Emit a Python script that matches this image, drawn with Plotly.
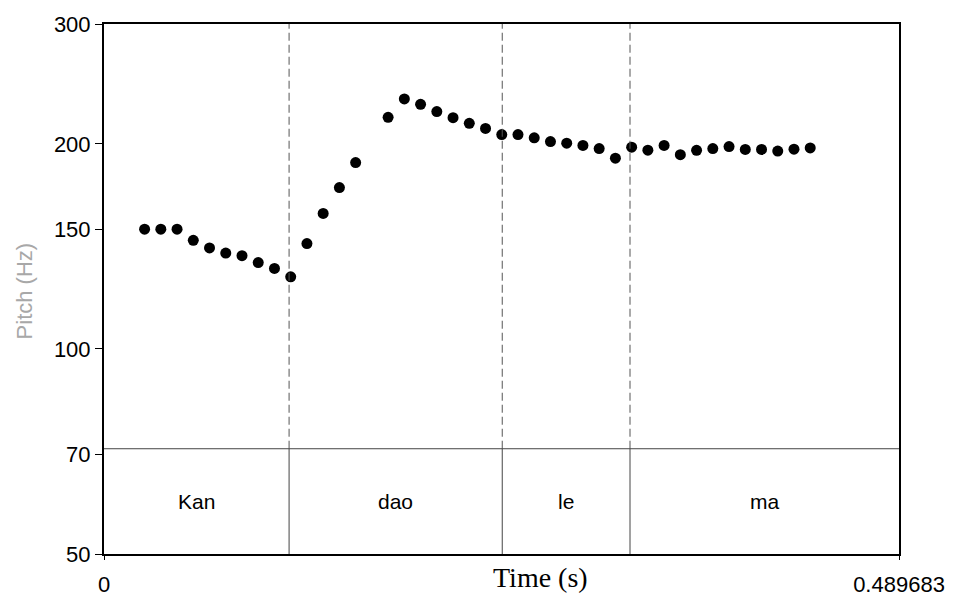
import plotly.graph_objects as go

# Pitch track (time in s, F0 in Hz), one frame every 10 ms; one unvoiced frame near 0.165 s
times = [0.025, 0.035, 0.045, 0.055, 0.065, 0.075, 0.085, 0.095, 0.105, 0.115,
         0.125, 0.135, 0.145, 0.155,
         0.175, 0.185, 0.195, 0.205, 0.215, 0.225, 0.235, 0.245, 0.255, 0.265,
         0.275, 0.285, 0.295, 0.305, 0.315, 0.325, 0.335, 0.345, 0.355, 0.365,
         0.375, 0.385, 0.395, 0.405, 0.415, 0.425, 0.435]
pitch = [149.9, 149.9, 149.9, 144.4, 140.7, 138.3, 137.1, 133.9, 131.3, 127.6,
         142.8, 158.1, 172.6, 187.8,
         218.8, 232.9, 228.7, 223.1, 218.6, 214.4, 210.8, 206.4, 206.4, 204.2,
         201.6, 200.5, 199.0, 196.9, 190.6, 197.8, 195.8, 199.0, 192.9, 195.7,
         196.9, 198.2, 196.3, 196.3, 195.2, 196.5, 197.3]

# Syllable tier
total_dur = 0.489683
boundaries = [0.1140, 0.2453, 0.3240]
syllables = ["Kan", "dao", "le", "ma"]

y_ticks = [50, 70, 100, 150, 200, 300]

tier_top = 0.1986   # top of the text tier, as a fraction of the plot height
sans = "Liberation Sans, Arial, Helvetica, sans-serif"

fig = go.Figure()
fig.add_trace(go.Scatter(
    x=times, y=pitch, mode="markers",
    marker=dict(color="black", size=11, line=dict(width=0)),
    hoverinfo="skip", showlegend=False,
))

shapes = []
edges = [0.0] + boundaries + [total_dur]
for b in boundaries:
    # dashed guide through the pitch area
    shapes.append(dict(type="line", xref="x", yref="paper", x0=b, x1=b,
                       y0=tier_top, y1=1, line=dict(color="#555555", width=1, dash="8px,4px")))
    # solid boundary inside the tier
    shapes.append(dict(type="line", xref="x", yref="paper", x0=b, x1=b,
                       y0=0, y1=tier_top, line=dict(color="#444444", width=1)))
shapes.append(dict(type="line", xref="paper", yref="paper", x0=0, x1=1,
                   y0=tier_top, y1=tier_top, line=dict(color="#444444", width=1)))

annotations = []
for i, lab in enumerate(syllables):
    annotations.append(dict(x=(edges[i] + edges[i + 1]) / 2, y=tier_top / 2,
                            xref="x", yref="paper", text=lab, showarrow=False,
                            font=dict(family=sans, size=21, color="black"),
                            xanchor="center", yanchor="middle"))
annotations.append(dict(x=0.549, y=-0.044, xref="paper", yref="paper", text="Time (s)",
                        showarrow=False, xanchor="center", yanchor="middle",
                        font=dict(family="Liberation Serif, Times New Roman, serif",
                                  size=28, color="black")))
annotations.append(dict(x=-0.100, y=0.4964, xref="paper", yref="paper", text="Pitch (Hz)",
                        showarrow=False, textangle=-90, xanchor="center", yanchor="middle",
                        font=dict(family=sans, size=22, color="#a8a8a8")))

fig.update_layout(
    width=957, height=609,
    margin=dict(l=104, r=54, t=20, b=35),
    paper_bgcolor="white", plot_bgcolor="white",
    shapes=shapes, annotations=annotations,
    xaxis=dict(range=[0, total_dur], tickvals=[0, total_dur], ticktext=["0", "0.489683"],
               ticks="outside", ticklen=4, tickwidth=1, tickcolor="black",
               showline=True, linecolor="black", linewidth=2, mirror=True,
               showgrid=False, zeroline=False, ticklabelstandoff=6,
               tickfont=dict(family=sans, size=22, color="black")),
    yaxis=dict(type="log", range=[1.69897, 2.4771213], tickvals=y_ticks,
               ticktext=[str(v) for v in y_ticks],
               ticks="outside", ticklen=7, tickwidth=1, tickcolor="black",
               showline=True, linecolor="black", linewidth=2, mirror=True,
               showgrid=False, zeroline=False, ticklabelstandoff=0,
               tickfont=dict(family=sans, size=22, color="black")),
)

fig.write_html("out.html")
